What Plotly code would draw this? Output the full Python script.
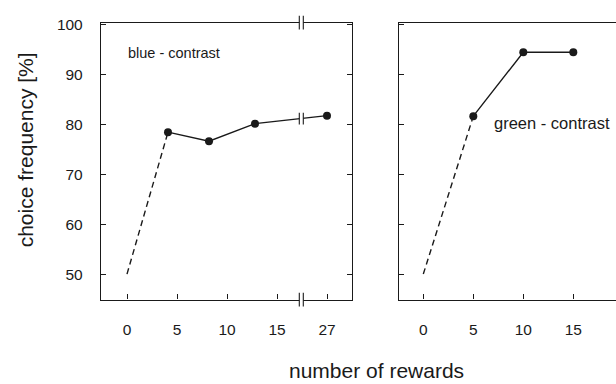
import numpy as np
import plotly.graph_objects as go

# ---- data ----
rewards_blue = [0, 4.1, 8.2, 12.8, 27]
choice_blue = [50, 78.4, 76.6, 80.1, 81.7]
rewards_green = [0, 5, 10, 15]
choice_green = [50, 81.6, 94.4, 94.4]

blue_tickvals = [0, 5, 10, 15, 27]
green_tickvals = [0, 5, 10, 15]
y_ticks = [50, 60, 70, 80, 90, 100]

BREAK_AT = 17.43      # display position of the axis break
BREAK_SHIFT = 7       # 27 is drawn at 20


def disp(x):
    x = np.asarray(x, dtype=float)
    return np.where(x > 18, x - BREAK_SHIFT, x)


W, H = 616, 384
FONT = "Liberation Sans, Arial, sans-serif"
INK = "#1a1a1a"

fig = go.Figure()

bx = disp(rewards_blue)
gx = disp(rewards_green)

# dashed segment from 0 to first point
fig.add_trace(go.Scatter(x=bx[:2], y=choice_blue[:2], mode="lines",
                         line=dict(color=INK, width=1.4, dash="6px,4px"),
                         xaxis="x", yaxis="y", showlegend=False))
fig.add_trace(go.Scatter(x=bx[1:], y=choice_blue[1:], mode="lines+markers",
                         line=dict(color=INK, width=1.4),
                         marker=dict(color=INK, size=8),
                         xaxis="x", yaxis="y", showlegend=False))
fig.add_trace(go.Scatter(x=gx[:2], y=choice_green[:2], mode="lines",
                         line=dict(color=INK, width=1.4, dash="6px,4px"),
                         xaxis="x2", yaxis="y2", showlegend=False))
fig.add_trace(go.Scatter(x=gx[1:], y=choice_green[1:], mode="lines+markers",
                         line=dict(color=INK, width=1.4),
                         marker=dict(color=INK, size=8),
                         xaxis="x2", yaxis="y2", showlegend=False))

ydom = [(H - 298) / H, (H - 16) / H]
yrange = [44.9, 100.3]

common_ax = dict(showgrid=False, zeroline=False, showline=True,
                 linecolor=INK, linewidth=1.3, ticks="inside", ticklen=5,
                 tickcolor=INK, tickwidth=1,
                 tickfont=dict(family=FONT, size=15.5, color=INK))

fig.update_layout(
    width=W, height=H, margin=dict(l=0, r=0, t=0, b=0),
    paper_bgcolor="white", plot_bgcolor="white",
    xaxis=dict(domain=[101 / W, 352 / W], range=[-2.6, 22.5],
               tickvals=list(disp(blue_tickvals)),
               ticktext=[str(v) for v in blue_tickvals],
               mirror=True, anchor="y", ticklabelstandoff=16, **common_ax),
    yaxis=dict(domain=ydom, range=yrange, tickvals=y_ticks,
               mirror="ticks", anchor="x", ticklabelstandoff=14, **common_ax),
    xaxis2=dict(domain=[399 / W, 1.0], range=[-2.43, 19.27],
                tickvals=green_tickvals,
                ticktext=[str(v) for v in green_tickvals],
                mirror=True, anchor="y2", ticklabelstandoff=16, **common_ax),
    yaxis2=dict(domain=ydom, range=yrange, tickvals=y_ticks,
                showticklabels=False, anchor="x2", **common_ax),
)

# axis break: white gap + double bars
gap = 0.2
shapes = [dict(type="rect", xref="x", yref="paper",
               x0=BREAK_AT - gap, x1=BREAK_AT + gap,
               y0=ydom[0] - 0.02, y1=ydom[1] + 0.02,
               fillcolor="white", line=dict(width=0), layer="above")]
bar_half_px = 7
for ycen in (ydom[0], ydom[1]):
    for xb in (BREAK_AT - gap, BREAK_AT + gap):
        shapes.append(dict(type="line", xref="x", yref="paper",
                           x0=xb, x1=xb,
                           y0=ycen - bar_half_px / H, y1=ycen + bar_half_px / H,
                           line=dict(color=INK, width=1.1), layer="above"))
# bars on the data line
y_at_break = float(np.interp(BREAK_AT, bx[3:], choice_blue[3:]))
px_per_unit = (ydom[1] - ydom[0]) * H / (yrange[1] - yrange[0])
for xb in (BREAK_AT - gap, BREAK_AT + gap):
    shapes.append(dict(type="line", xref="x", yref="y",
                       x0=xb, x1=xb,
                       y0=y_at_break - 6 / px_per_unit,
                       y1=y_at_break + 6 / px_per_unit,
                       line=dict(color=INK, width=1.1), layer="above"))
fig.update_layout(shapes=shapes)

fig.add_annotation(text="blue - contrast", xref="x", yref="y",
                   x=-0.1, y=94.2, xanchor="left", yanchor="middle",
                   showarrow=False, font=dict(family=FONT, size=14.5, color=INK))
fig.add_annotation(text="green - contrast", xref="x2", yref="y2",
                   x=6.9, y=80.3, xanchor="left", yanchor="middle",
                   showarrow=False, font=dict(family=FONT, size=16.5, color=INK))
fig.add_annotation(text="choice frequency [%]", xref="paper", yref="paper",
                   x=25 / W, y=(H - 146) / H, textangle=-90,
                   xanchor="center", yanchor="middle", showarrow=False,
                   font=dict(family=FONT, size=21, color=INK))
fig.add_annotation(text="number of rewards", xref="paper", yref="paper",
                   x=376.5 / W, y=0.0,
                   xanchor="center", yanchor="bottom", showarrow=False,
                   font=dict(family=FONT, size=21, color=INK))

fig.write_html("out.html")
